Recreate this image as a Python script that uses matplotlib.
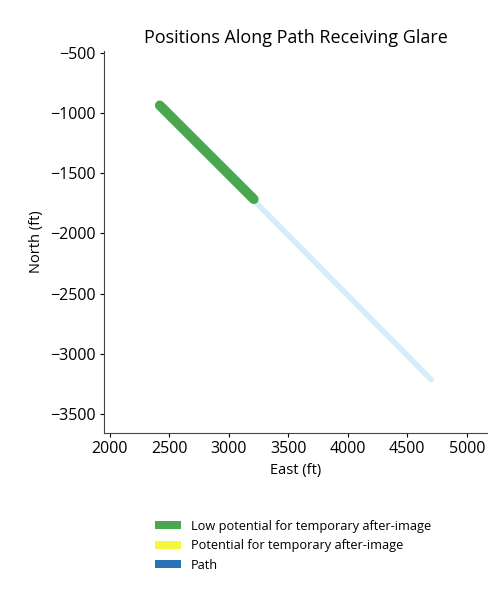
import matplotlib
matplotlib.use("Agg")
import matplotlib.pyplot as plt
from matplotlib.patches import Patch

plt.rcParams['font.family'] = ['Open Sans', 'DejaVu Sans']

# Path vertices (east, north) in feet
path_east = [2420, 4700]
path_north = [-935, -3215]

# Portion of the path receiving low-potential glare
glare_east = [2420, 3210]
glare_north = [-935, -1715]

legend_labels = ["Low potential for temporary after-image",
                 "Potential for temporary after-image",
                 "Path"]
legend_colors = ["#4aa64f", "#f5f53a", "#2a72b8"]

x_ticks = [2000, 2500, 3000, 3500, 4000, 4500, 5000]
y_ticks = [-500, -1000, -1500, -2000, -2500, -3000, -3500]

fig = plt.figure(figsize=(4.92, 5.93), dpi=100)
ax = fig.add_axes([0.211, 0.270, 0.779, 0.644])

ax.plot(path_east, path_north, color="#d2eff6", lw=4, solid_capstyle="round", zorder=1)
ax.plot(glare_east, glare_north, color="#4aa64f", lw=7, solid_capstyle="round", zorder=2)

ax.set_xlim(1950, 5170)
ax.set_ylim(-3658, -483)
ax.set_xticks(x_ticks)
ax.set_yticks(y_ticks)
ax.set_xticklabels([str(v) for v in x_ticks])
ax.set_yticklabels([str(v).replace('-', '\u2212') for v in y_ticks])
ax.tick_params(labelsize=11.5, length=3, width=0.8, pad=3)

for side in ("top", "right"):
    ax.spines[side].set_visible(False)
for side in ("left", "bottom"):
    ax.spines[side].set_linewidth(0.8)
    ax.spines[side].set_color("#444444")

ax.set_xlabel("East (ft)", fontsize=10.5, labelpad=4)
ax.set_ylabel("North (ft)", fontsize=10.5, labelpad=4)
ax.set_title("Positions Along Path Receiving Glare", fontsize=13, pad=6)

handles = [Patch(facecolor=c, edgecolor="none") for c in legend_colors]
fig.legend(handles, legend_labels, loc="upper left", bbox_to_anchor=(0.305, 0.132),
           frameon=False, fontsize=9.2, handlelength=2.0, handleheight=0.6,
           handletextpad=0.8, labelspacing=0.5, borderaxespad=0)

fig.savefig("out.png", dpi=100)
